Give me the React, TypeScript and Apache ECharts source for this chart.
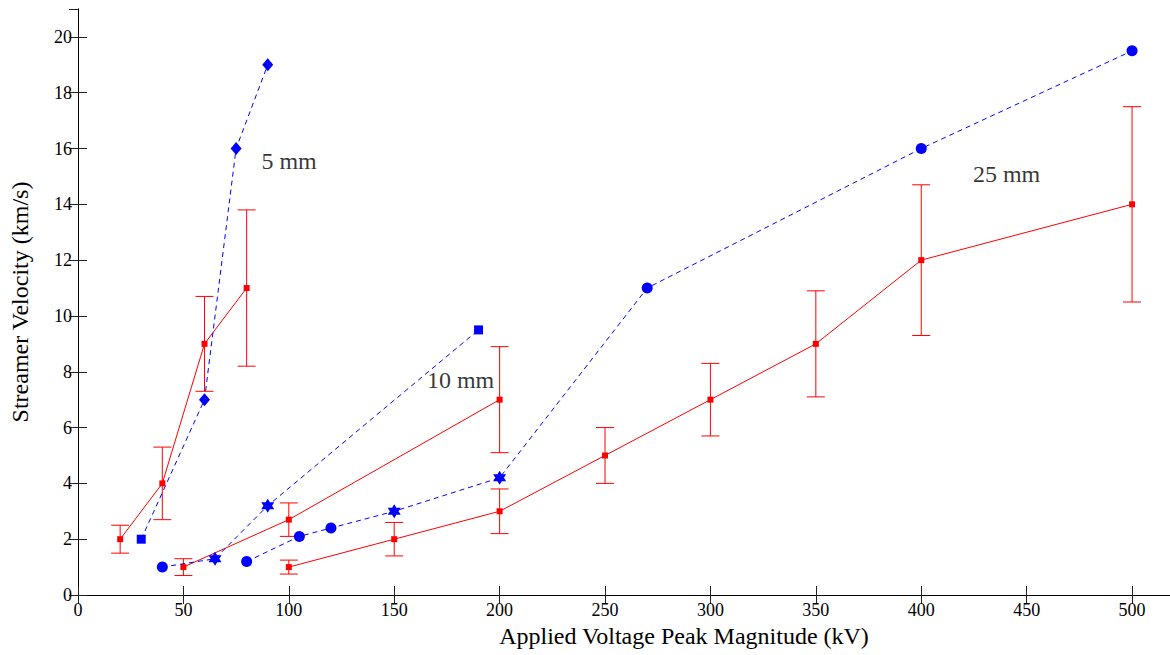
import React, { useEffect, useRef } from "react";
import * as echarts from "echarts";

// ---- Data ----
const xTickValues = [0, 50, 100, 150, 200, 250, 300, 350, 400, 450, 500];
const yTickValues = [0, 2, 4, 6, 8, 10, 12, 14, 16, 18, 20];

// Red measured series (solid with error bars)
const red5X = [20, 40, 60, 80];
const red5Y = [2, 4, 9, 11];
const red5Lo = [1.5, 2.7, 7.3, 8.2];
const red5Hi = [2.5, 5.3, 10.7, 13.8];

const red10X = [50, 100, 200];
const red10Y = [1, 2.7, 7];
const red10Lo = [0.7, 2.1, 5.1];
const red10Hi = [1.3, 3.3, 8.9];

const red25X = [100, 150, 200, 250, 300, 350, 400, 500];
const red25Y = [1, 2, 3, 5, 7, 9, 12, 14];
const red25Lo = [0.75, 1.4, 2.2, 4.0, 5.7, 7.1, 9.3, 10.5];
const red25Hi = [1.25, 2.6, 3.8, 6.0, 8.3, 10.9, 14.7, 17.5];

// Blue dashed series
const blue5X = [30, 60, 75, 90];
const blue5Y = [2, 7, 16, 19];
const blue5Sym = ["rect", "diamond", "diamond", "diamond"];

const blue10X = [40, 65, 90, 190];
const blue10Y = [1, 1.3, 3.2, 9.5];
const blue10Sym = ["circle", "star", "star", "rect"];

const blue25X = [80, 105, 120, 150, 200, 270, 400, 500];
const blue25Y = [1.2, 2.1, 2.4, 3, 4.2, 11, 16, 19.5];
const blue25Sym = ["circle", "circle", "circle", "star", "star", "circle", "circle", "circle"];

// Annotations
const labelTexts = ["5 mm", "10 mm", "25 mm"];
const labelX = [87, 165.5, 424.5];
const labelY = [15.55, 7.7, 15.1];

const FONT = "Liberation Serif";
const RED = "#ff0000";
const BLUE = "#0000ff";
const STAR = "path://M0,-10L8.66,5L-8.66,5Z M0,10L-8.66,-5L8.66,-5Z";

const symbolSpec = (s: string) => {
  if (s === "star") return { symbol: STAR, symbolSize: [13, 14] };
  if (s === "diamond") return { symbol: "diamond", symbolSize: [11, 13] };
  if (s === "rect") return { symbol: "rect", symbolSize: 9 };
  return { symbol: "circle", symbolSize: 11 };
};

const redLine = (name: string, xs: number[], ys: number[]) => ({
  name,
  type: "line",
  data: xs.map((x, i) => [x, ys[i]]),
  symbol: "rect",
  symbolSize: 6,
  lineStyle: { color: RED, width: 1 },
  itemStyle: { color: RED },
  z: 3,
});

const errBars = (name: string, xs: number[], lo: number[], hi: number[]) => ({
  name,
  type: "custom",
  data: xs.map((x, i) => [x, lo[i], hi[i]]),
  encode: { x: 0, y: [1, 2] },
  renderItem: (_params: any, api: any) => {
    const x = api.value(0);
    const top = api.coord([x, api.value(2)]);
    const bot = api.coord([x, api.value(1)]);
    const hw = 9;
    const style = { stroke: RED, lineWidth: 1 };
    return {
      type: "group",
      children: [
        { type: "line", shape: { x1: top[0], y1: top[1], x2: bot[0], y2: bot[1] }, style },
        { type: "line", shape: { x1: top[0] - hw, y1: top[1], x2: top[0] + hw, y2: top[1] }, style },
        { type: "line", shape: { x1: bot[0] - hw, y1: bot[1], x2: bot[0] + hw, y2: bot[1] }, style },
      ],
    };
  },
  z: 2,
});

const blueLine = (name: string, xs: number[], ys: number[], syms: string[]) => ({
  name,
  type: "line",
  data: xs.map((x, i) => ({ value: [x, ys[i]], ...symbolSpec(syms[i]) })),
  lineStyle: { color: BLUE, width: 1, type: [5, 4] },
  itemStyle: { color: BLUE, borderWidth: 0 },
  z: 4,
});

export default function App() {
  const ref = useRef<HTMLDivElement>(null);
  useEffect(() => {
    if (!ref.current) return;
    const chart = echarts.init(ref.current, undefined, { renderer: "svg" });
    const axisCommon = {
      type: "value",
      splitLine: { show: false },
      axisLine: { show: true, lineStyle: { color: "#000", width: 1 } },
      axisTick: { show: true, inside: true, length: 9, lineStyle: { color: "#222" } },
    };
    chart.setOption({
      animation: false,
      backgroundColor: "#fff",
      textStyle: { fontFamily: FONT },
      grid: { left: 78, right: 0, top: 9, bottom: 60, containLabel: false },
      xAxis: [
        {
          ...axisCommon,
          position: "bottom",
          min: 0,
          max: 518,
          interval: 50,
          axisLabel: {
            show: true,
            color: "#000",
            fontFamily: FONT,
            fontSize: 18,
            margin: 6,
            showMaxLabel: false,
            formatter: (v: number) => (xTickValues.includes(v) ? String(v) : ""),
          },
          name: "Applied Voltage Peak Magnitude (kV)",
          nameLocation: "middle",
          nameGap: 29,
          nameTextStyle: { color: "#000", fontFamily: FONT, fontSize: 24, padding: [0, 0, 0, 120] },
        },
        {
          ...axisCommon,
          position: "top",
          min: 0,
          max: 518,
          interval: 50,
          axisLabel: { show: false },
        },
      ],
      yAxis: [
        {
          ...axisCommon,
          position: "left",
          min: 0,
          max: 21,
          interval: 2,
          axisLabel: {
            show: true,
            color: "#000",
            fontFamily: FONT,
            fontSize: 18,
            margin: 6,
            showMaxLabel: false,
            formatter: (v: number) => (yTickValues.includes(v) ? String(v) : ""),
          },
          name: "Streamer Velocity (km/s)",
          nameLocation: "middle",
          nameGap: 46,
          nameTextStyle: { color: "#000", fontFamily: FONT, fontSize: 24 },
        },
        {
          ...axisCommon,
          position: "right",
          min: 0,
          max: 21,
          interval: 2,
          axisLabel: { show: false },
        },
      ],
      series: [
        errBars("err5", red5X, red5Lo, red5Hi),
        errBars("err10", red10X, red10Lo, red10Hi),
        errBars("err25", red25X, red25Lo, red25Hi),
        redLine("red5", red5X, red5Y),
        redLine("red10", red10X, red10Y),
        redLine("red25", red25X, red25Y),
        blueLine("blue5", blue5X, blue5Y, blue5Sym),
        blueLine("blue10", blue10X, blue10Y, blue10Sym),
        blueLine("blue25", blue25X, blue25Y, blue25Sym),
        {
          name: "labels",
          type: "scatter",
          data: labelTexts.map((t, i) => ({ value: [labelX[i], labelY[i]], name: t })),
          symbolSize: 0,
          silent: true,
          label: {
            show: true,
            formatter: (p: any) => p.name,
            position: [0, 0],
            align: "left",
            verticalAlign: "middle",
            color: "#000",
            fontFamily: FONT,
            fontSize: 24,
          },
          z: 5,
        },
      ],
    });
    return () => chart.dispose();
  }, []);
  return <div ref={ref} style={{ width: 1170, height: 655, position: "absolute", left: 0, top: 0 }} />;
}
